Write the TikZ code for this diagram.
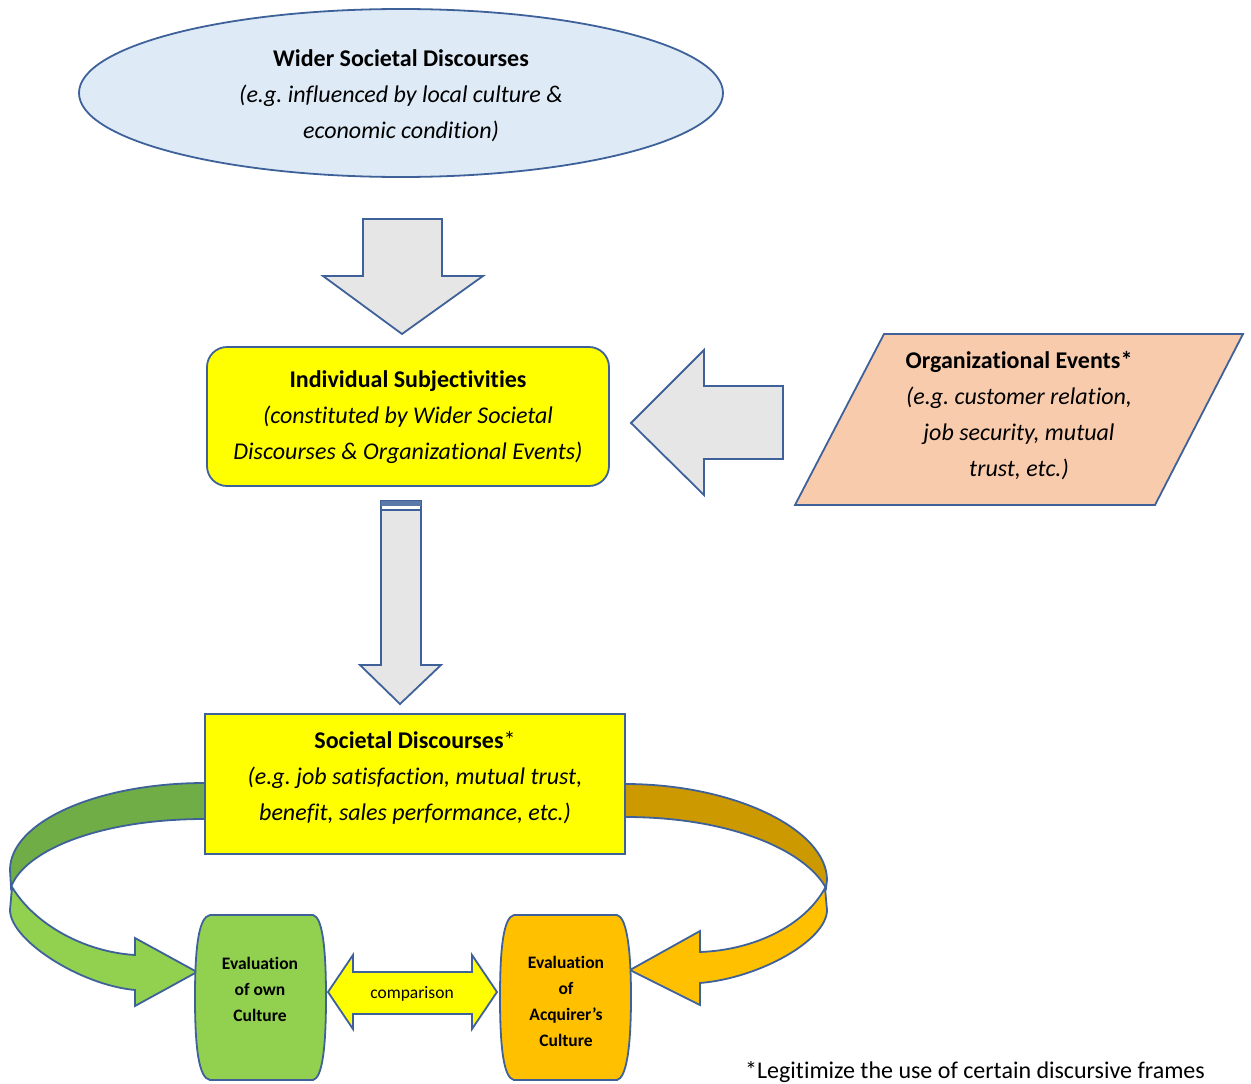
\documentclass[tikz,border=0pt]{standalone}
\usepackage{fontspec}
\setmainfont{Carlito}[Ligatures={NoCommon}]
\frenchspacing
\definecolor{edge}{HTML}{3E6199}
\definecolor{arrowgrey}{HTML}{E7E6E6}
\definecolor{skyfill}{HTML}{DEEBF7}
\definecolor{boxyellow}{HTML}{FFFF00}
\definecolor{peach}{HTML}{F8CBAD}
\definecolor{leaf}{HTML}{92D050}
\definecolor{leafdark}{HTML}{70AD47}
\definecolor{amber}{HTML}{FFC000}
\definecolor{amberdark}{HTML}{CC9900}
\begin{document}
\begin{tikzpicture}[x=1pt,y=-1pt,
  outline/.style={draw=edge,line width=1.8pt,line join=miter},
  blockarrow/.style={outline,fill=arrowgrey},
  bigtext/.style={inner sep=0pt,align=center,font=\fontsize{24}{36}\selectfont},
  smalltext/.style={inner sep=0pt,align=center,font=\fontsize{17.5}{26}\selectfont\bfseries}]
\useasboundingbox (0,0) rectangle (1251,1084);

% wider societal discourses
\draw[outline,fill=skyfill] (401,93) ellipse [x radius=322pt, y radius=84pt];
\node[bigtext] (wider) at (401,96) {\textbf{Wider Societal Discourses}\\
  \textit{(e.g. influenced by local culture \&}\\ \textit{economic condition)}};

% arrow down into the subjectivities box
\draw[blockarrow] (363,219) -- (442,219) -- (442,276) -- (483,276) -- (402,334)
  -- (323,276) -- (363,276) -- cycle;

% individual subjectivities
\node[outline,fill=boxyellow,rounded corners=20pt,minimum width=402pt,minimum height=139pt]
  (indiv) at (408,416.5) {};
\node[bigtext] (indivtext) at (408,417) {\textbf{Individual Subjectivities}\\
  \textit{(constituted by Wider Societal}\\ \textit{Discourses \& Organizational Events)}};

% arrow from organizational events
\draw[blockarrow] (783,386) -- (783,459) -- (704,459) -- (704,495) -- (631,423)
  -- (704,350) -- (704,386) -- cycle;

% organizational events
\draw[outline,fill=peach] (884,334) -- (1243,334) -- (1155,505) -- (795,505) -- cycle;
\node[bigtext] (events) at (1019,415.5) {\textbf{Organizational Events*}\\
  \textit{(e.g. customer relation,}\\ \textit{job security, mutual}\\ \textit{trust, etc.)}};

% arrow down into the societal discourses box
\draw[blockarrow] (381,501) -- (421,501) -- (421,665) -- (441,665) -- (400,704)
  -- (360,665) -- (381,665) -- cycle;
\fill[edge!85] (381,501) rectangle (421,505.5);
\fill[white] (382,506) rectangle (420,508.5);
\draw[edge,line width=1.8pt] (381,510) -- (421,510);

% back halves of the curved arrows
\draw[outline,fill=leafdark] (215,783) -- (205,783) .. controls (97,783) and (10,822) .. (10,870)
  -- (11,887) .. controls (25,850) and (100,819) .. (205,819) -- (215,819) -- cycle;
\draw[outline,fill=amberdark] (615,784) -- (625,784) .. controls (735,784) and (827,830) .. (827,880)
  -- (826,888) .. controls (805,850) and (730,817) .. (625,817) -- (615,817) -- cycle;

% societal discourses
\node[outline,fill=boxyellow,minimum width=420pt,minimum height=140pt] (soc) at (415,784) {};
\node[bigtext] (soctext) at (415,777.5) {\textbf{Societal Discourses}*\\
  \textit{(e.g. job satisfaction, mutual trust,}\\ \textit{benefit, sales performance, etc.)}};

% front halves of the curved arrows
\draw[outline,fill=leaf] (12,887) .. controls (35,925) and (85,952) .. (135,955) -- (135,938)
  -- (197,972) -- (135,1006) -- (135,990) .. controls (80,985) and (10,940) .. (10,910) -- cycle;
\draw[outline,fill=amber] (825,888) .. controls (805,925) and (755,950) .. (700,952) -- (700,931)
  -- (630,970) -- (700,1005) -- (700,983) .. controls (760,978) and (827,940) .. (827,910) -- cycle;

% evaluation barrels
\draw[outline,fill=leaf] (210,915) -- (313,915) .. controls (322,917) and (326,945) .. (326,997)
  .. controls (326,1050) and (322,1078) .. (313,1080) -- (210,1080)
  .. controls (199,1078) and (195,1050) .. (195,997) .. controls (195,945) and (199,917) .. (210,915) -- cycle;
\node[smalltext] (own) at (260,989) {Evaluation\\ of own\\ Culture};
\draw[outline,fill=amber] (514,915) -- (617,915) .. controls (626,917) and (631,945) .. (631,997)
  .. controls (631,1050) and (626,1078) .. (617,1080) -- (514,1080)
  .. controls (504,1078) and (500,1050) .. (500,997) .. controls (500,945) and (504,917) .. (514,915) -- cycle;
\node[smalltext] (acq) at (566,1001.5) {Evaluation\\ of\\ Acquirer’s\\ Culture};

% comparison double arrow
\draw[outline,fill=boxyellow] (328,992) -- (353,955) -- (353,972) -- (472,972) -- (472,955)
  -- (497,992) -- (472,1029) -- (472,1014) -- (353,1014) -- (353,1029) -- cycle;
\node[inner sep=0pt,font=\fontsize{17.5}{20}\selectfont] (cmp) at (412,994) {comparison};

% footnote
\node[inner sep=0pt,font=\fontsize{24}{26}\selectfont] (note) at (975,1072)
  {*Legitimize the use of certain discursive frames};
\end{tikzpicture}
\end{document}
